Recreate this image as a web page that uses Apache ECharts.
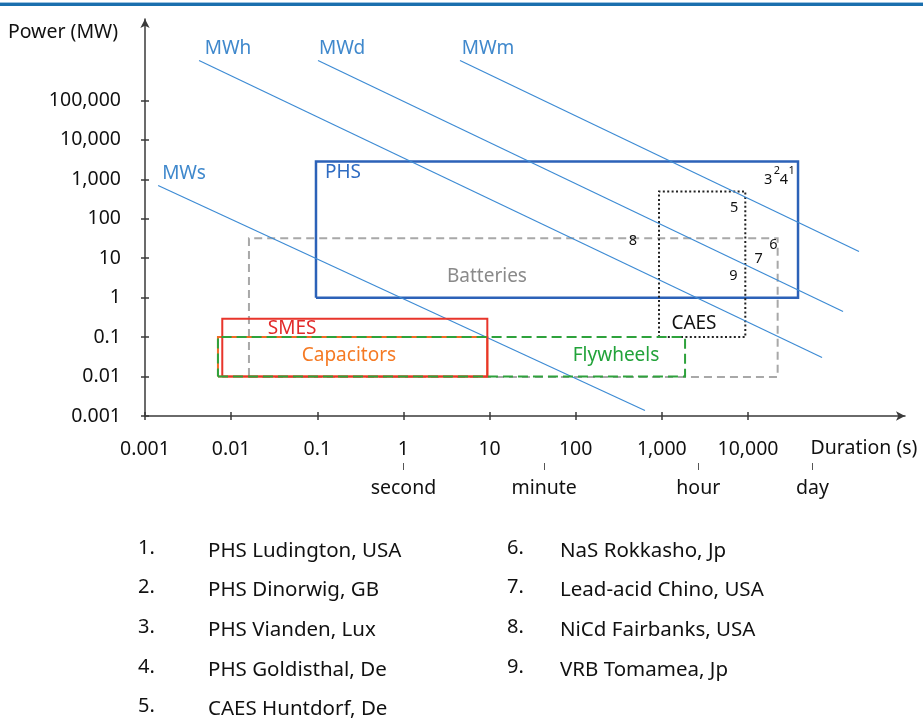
<!DOCTYPE html>
<html>
<head>
<meta charset="utf-8">
<script src="https://cdn.jsdelivr.net/npm/echarts@6/dist/echarts.min.js"></script>
<style>
html,body{margin:0;padding:0;background:#fff;}
#chart{width:923px;height:723px;}
</style>
</head>
<body>
<div id="chart"></div>
<script>
// ---------- data ----------
const xTicks = [0.001, 0.01, 0.1, 1, 10, 100, 1000, 10000];
const yTicks = [0.001, 0.01, 0.1, 1, 10, 100, 1000, 10000, 100000];
const timeMarks = ['second', 'minute', 'hour', 'day'];
const timeMarkValues = [1, 43, 2650, 56000];

// constant-energy lines (duration s, power MW)
const energyNames = ['MWs', 'MWh', 'MWd', 'MWm'];
const energyStart = [[0.00142, 698], [0.00424, 1.03e6], [0.102, 1.03e6], [4.54, 1.03e6]];
const energyEnd = [[637, 0.00138], [72400, 0.0304], [127000, 0.447], [194500, 14.8]];
const energyLabelPos = [[0.00284, 1410], [0.0092, 2.08e6], [0.194, 2.08e6], [9.6, 2.08e6]];

// technology ranges
const techNames = ['Batteries', 'PHS', 'CAES', 'Capacitors', 'SMES', 'Flywheels'];
const durationMin = [0.0161, 0.0966, 927, 0.00703, 0.00789, 0.00703];
const durationMax = [22100, 38100, 9310, 9.42, 9.42, 1860];
const powerMin = [0.0097, 1.0, 0.1, 0.01, 0.01, 0.01];
const powerMax = [32.2, 2840, 492, 0.1, 0.291, 0.1];
const techLabelPos = [[9.33, 3.44], [0.199, 1490], [2360, 0.221], [0.233, 0.0342], [0.051, 0.166], [294, 0.0342]];

// installations (number marks)
const siteNumbers = ['1', '2', '3', '4', '5', '6', '7', '8', '9'];
const siteDuration = [32200, 21700, 17200, 26200, 6890, 19700, 13300, 462, 6760];
const sitePower = [1610, 1610, 975, 975, 190, 21.9, 9.68, 28.2, 3.51];
const siteSuperscript = [true, true, false, false, false, false, false, false, false];
const siteNames = ['PHS Ludington, USA', 'PHS Dinorwig, GB', 'PHS Vianden, Lux', 'PHS Goldisthal, De',
  'CAES Huntdorf, De', 'NaS Rokkasho, Jp', 'Lead-acid Chino, USA', 'NiCd Fairbanks, USA', 'VRB Tomamea, Jp'];

// ---------- styles ----------
const FONT = '"Noto Sans", sans-serif';
const AX = '#3a3a3a';
const techStyle = {
  'Batteries': {color: '#a8a8a8', type: [8, 5], width: 2, text: '#8a8a8a', z: 2},
  'PHS': {color: '#2c62b8', type: 'solid', width: 2.5, text: '#2f6cc2', z: 3},
  'CAES': {color: '#222', type: [2, 2.4], width: 2, text: '#111', z: 4},
  'Capacitors': {color: '#f26a24', type: 'solid', width: 2, text: '#f57a24', z: 5},
  'SMES': {color: '#e8352b', type: 'solid', width: 2, text: '#e22a2a', z: 6},
  'Flywheels': {color: '#2ea23c', type: [10, 5], width: 2, text: '#22a33a', z: 7}
};
const lineBlue = '#3d8bd4';

function fmtNum(v) {
  const n = Number(Number(v).toPrecision(4));
  if (n >= 1) return n.toLocaleString('en-US');
  return String(n);
}
function timeMarkLabel(v) {
  const lv = Math.log10(v);
  const i = timeMarkValues.findIndex(m => Math.abs(Math.log10(m) - lv) < 1e-3);
  return i >= 0 ? timeMarks[i] : '';
}

const X_MIN = 0.001, X_MAX = 665000, Y_MIN = 0.001, Y_MAX = 1.164e7;

function baseX(extra) {
  return Object.assign({
    type: 'log', logBase: 10, min: X_MIN, max: X_MAX, position: 'bottom',
    splitLine: {show: false}, minorTick: {show: false}, minorSplitLine: {show: false}
  }, extra);
}
function baseY(extra) {
  return Object.assign({
    type: 'log', logBase: 10, min: Y_MIN, max: Y_MAX, position: 'left',
    splitLine: {show: false}, minorTick: {show: false}, minorSplitLine: {show: false}
  }, extra);
}

const series = [];

// technology boxes
techNames.forEach((name, i) => {
  const st = techStyle[name];
  series.push({
    type: 'line', name: name, silent: true, symbol: 'none', z: st.z,
    data: [[durationMin[i], powerMin[i]], [durationMax[i], powerMin[i]], [durationMax[i], powerMax[i]],
      [durationMin[i], powerMax[i]], [durationMin[i], powerMin[i]]],
    lineStyle: {color: st.color, type: st.type, width: st.width, cap: 'butt', join: 'miter'}
  });
});

// energy lines
energyNames.forEach((name, i) => {
  series.push({
    type: 'line', name: name, silent: true, symbol: 'none', z: 4,
    data: [energyStart[i], energyEnd[i]],
    lineStyle: {color: lineBlue, width: 1.2}
  });
});

// text labels via custom series
const labelItems = [];
techNames.forEach((name, i) => labelItems.push({pos: techLabelPos[i], text: name, color: techStyle[name].text, size: 19}));
energyNames.forEach((name, i) => labelItems.push({pos: energyLabelPos[i], text: name, color: '#3f88cc', size: 19}));
siteNumbers.forEach((n, i) => labelItems.push({pos: [siteDuration[i], sitePower[i]], text: n, color: '#111', size: siteSuperscript[i] ? 11 : 14.5}));

series.push({
  type: 'custom', silent: true, z: 10, clip: false,
  data: labelItems.map(d => d.pos),
  renderItem: function (params, api) {
    const d = labelItems[params.dataIndex];
    const p = api.coord([api.value(0), api.value(1)]);
    return {
      type: 'text', x: p[0], y: p[1],
      style: {text: d.text, fill: d.color, font: d.size + 'px ' + FONT, align: 'center', verticalAlign: 'middle'}
    };
  }
});

// header rule, axis titles and bottom list
const graphics = [
  {type: 'rect', left: 0, top: 2, shape: {width: 923, height: 1}, style: {fill: '#9cc2e0'}, silent: true},
  {type: 'rect', left: 0, top: 3, shape: {width: 923, height: 3}, style: {fill: '#1a6fae'}, silent: true},
  {type: 'text', x: 63, y: 32, style: {text: 'Power (MW)', font: '19.5px ' + FONT, fill: '#111', align: 'center', verticalAlign: 'middle'}},
  {type: 'text', x: 864, y: 448, style: {text: 'Duration (s)', font: '19.5px ' + FONT, fill: '#111', align: 'center', verticalAlign: 'middle'}}
];
const rowY = [551, 590, 630, 670, 709];
siteNames.forEach((name, i) => {
  const col = i < 5 ? 0 : 1;
  const row = i < 5 ? i : i - 5;
  const nx = col === 0 ? 138 : 507;
  const tx = col === 0 ? 208 : 560;
  graphics.push({type: 'text', x: nx, y: rowY[row] - 3, style: {text: siteNumbers[i] + '.', font: '20px ' + FONT, fill: '#111', verticalAlign: 'middle'}});
  graphics.push({type: 'text', x: tx, y: rowY[row], style: {text: name, font: '20.5px ' + FONT, fill: '#111', verticalAlign: 'middle'}});
});

const tickStyle = {color: AX, width: 1.5};
const option = {
  animation: false,
  backgroundColor: '#fff',
  grid: {left: 145, right: 18, top: 19, bottom: 307, containLabel: false, outerBoundsMode: 'none'},
  xAxis: [
    baseX({
      axisLine: {show: true, lineStyle: {color: AX, width: 1.5}, symbol: ['none', 'arrow'], symbolSize: [7, 9]},
      axisTick: {show: true, length: 4, customValues: xTicks, lineStyle: tickStyle},
      axisLabel: {show: true, customValues: xTicks, formatter: fmtNum, margin: 23, fontSize: 19.5, fontFamily: FONT, color: '#111'}
    }),
    baseX({
      axisLine: {show: false},
      axisTick: {show: true, inside: true, length: 4, customValues: xTicks, lineStyle: tickStyle},
      axisLabel: {show: false}
    }),
    baseX({
      offset: 47,
      axisLine: {show: false},
      axisTick: {show: true, length: 7, customValues: timeMarkValues, lineStyle: {color: '#555', width: 1}},
      axisLabel: {show: true, customValues: timeMarkValues, formatter: timeMarkLabel, margin: 15, fontSize: 19.5, fontFamily: FONT, color: '#111'}
    })
  ],
  yAxis: [
    baseY({
      axisLine: {show: true, lineStyle: {color: AX, width: 1.5}, symbol: ['none', 'arrow'], symbolSize: [7, 9]},
      axisTick: {show: true, length: 4, customValues: yTicks, lineStyle: tickStyle},
      axisLabel: {show: true, customValues: yTicks, formatter: fmtNum, margin: 24, fontSize: 19.5, fontFamily: FONT, color: '#111'}
    }),
    baseY({
      axisLine: {show: false},
      axisTick: {show: true, inside: true, length: 4, customValues: yTicks, lineStyle: tickStyle},
      axisLabel: {show: false}
    })
  ],
  series: series,
  graphic: graphics
};

const chart = echarts.init(document.getElementById('chart'), null, {renderer: 'canvas'});
chart.setOption(option);
</script>
</body>
</html>
